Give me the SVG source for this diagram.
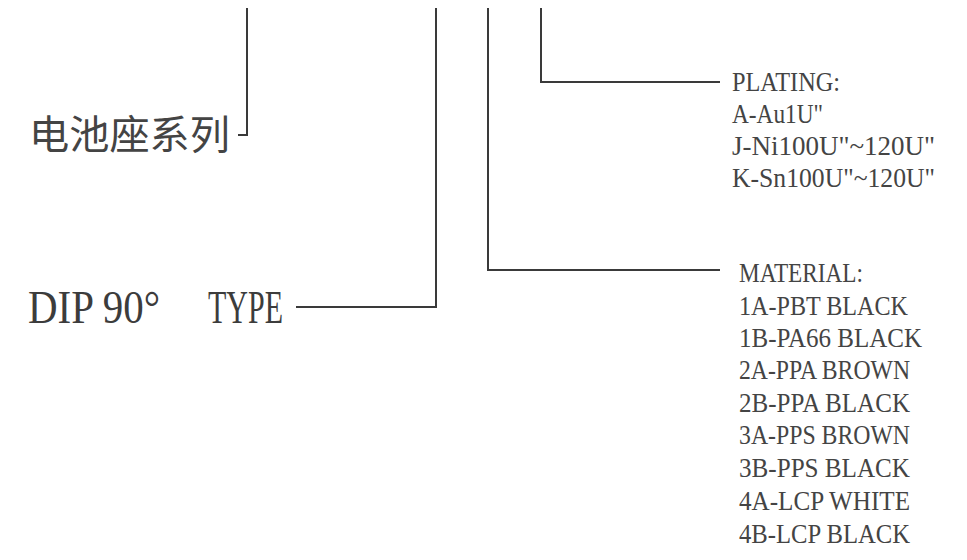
<svg xmlns="http://www.w3.org/2000/svg" width="967" height="560" viewBox="0 0 967 560">
<style>
.ln{fill:none;stroke:#3a3a3a;stroke-width:2}
.t{font-family:"Liberation Serif","DejaVu Serif",serif;fill:#444;font-size:28px}
.big{font-family:"Liberation Serif","DejaVu Serif",serif;fill:#3c3c3c;font-size:46px}
.cn{font-family:"Noto Sans CJK SC","Noto Sans",sans-serif;fill:#444;font-size:40px}
</style>
<rect width="967" height="560" fill="#fff"/>
<g id="connectors">
<path class="ln" d="M247 8 V135 H238"/>
<path class="ln" d="M436 8 V307 H296"/>
<path class="ln" d="M488 8 V270 H720"/>
<path class="ln" d="M541 8 V82 H720"/>
</g>
<g id="series">
<text class="cn" x="29" y="149" textLength="201" lengthAdjust="spacingAndGlyphs">电池座系列</text>
</g>
<g id="type">
<text class="big" x="28" y="323" textLength="132" lengthAdjust="spacingAndGlyphs">DIP 90°</text>
<text class="big" x="208" y="323" textLength="75" lengthAdjust="spacingAndGlyphs">TYPE</text>
</g>
<g id="plating">
<text class="t" x="732" y="91" textLength="108" lengthAdjust="spacingAndGlyphs">PLATING:</text>
<text class="t" x="732" y="123" textLength="91" lengthAdjust="spacingAndGlyphs">A-Au1U"</text>
<text class="t" x="732" y="155" textLength="203" lengthAdjust="spacingAndGlyphs">J-Ni100U"~120U"</text>
<text class="t" x="732" y="187" textLength="203" lengthAdjust="spacingAndGlyphs">K-Sn100U"~120U"</text>
</g>
<g id="material">
<text class="t" x="739" y="282" textLength="124" lengthAdjust="spacingAndGlyphs">MATERIAL:</text>
<text class="t" x="739" y="315" textLength="169" lengthAdjust="spacingAndGlyphs">1A-PBT BLACK</text>
<text class="t" x="739" y="347" textLength="183" lengthAdjust="spacingAndGlyphs">1B-PA66 BLACK</text>
<text class="t" x="739" y="379" textLength="171" lengthAdjust="spacingAndGlyphs">2A-PPA BROWN</text>
<text class="t" x="739" y="412" textLength="171" lengthAdjust="spacingAndGlyphs">2B-PPA BLACK</text>
<text class="t" x="739" y="444" textLength="171" lengthAdjust="spacingAndGlyphs">3A-PPS BROWN</text>
<text class="t" x="739" y="477" textLength="171" lengthAdjust="spacingAndGlyphs">3B-PPS BLACK</text>
<text class="t" x="739" y="510" textLength="171" lengthAdjust="spacingAndGlyphs">4A-LCP WHITE</text>
<text class="t" x="739" y="543" textLength="171" lengthAdjust="spacingAndGlyphs">4B-LCP BLACK</text>
</g>
</svg>
